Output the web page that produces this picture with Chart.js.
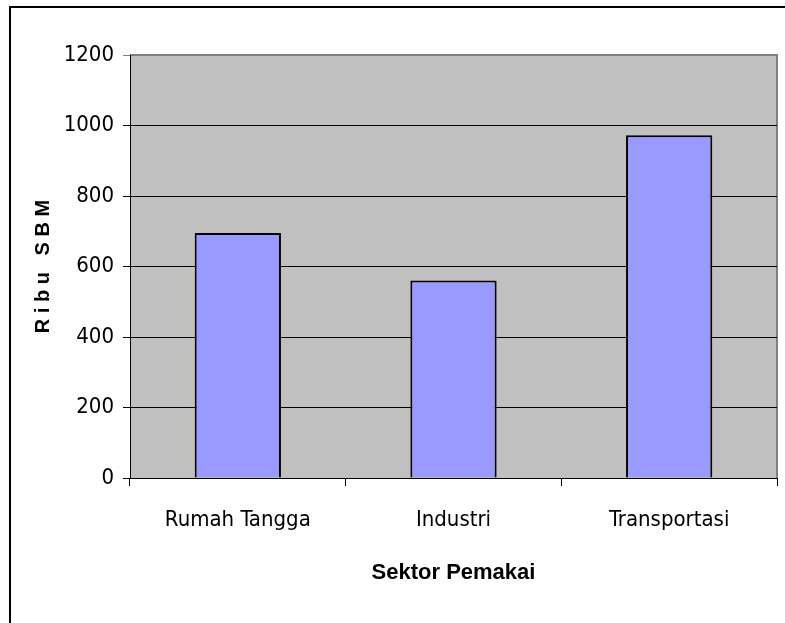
<!DOCTYPE html>
<html>
<head>
<meta charset="utf-8">
<script src="https://cdn.jsdelivr.net/npm/chart.js@4/dist/chart.umd.min.js"></script>
<style>
  html, body { margin: 0; padding: 0; background: #fff; }
  canvas { display: block; }
</style>
</head>
<body>
<canvas id="grafik" width="785" height="623"></canvas>
<script>
const sektor = ["Rumah Tangga", "Industri", "Transportasi"];
const ribuSBM = [695, 560, 972];
const yMin = 0;
const yMax = 1200;
const yStep = 200;

const fontNarrow = "'Liberation Sans Narrow', 'DejaVu Sans Condensed', Arial, sans-serif";
const fontBold = "Arial, 'Liberation Sans', sans-serif";

// fondo gris del area y marco exterior
const latar = {
  id: "latar",
  beforeDraw(chart) {
    const { ctx, chartArea: a } = chart;
    ctx.save();
    ctx.fillStyle = "#fff";
    ctx.fillRect(0, 0, chart.width, chart.height);
    ctx.fillStyle = "#000";
    ctx.fillRect(9, 6, 2, chart.height);
    ctx.fillRect(9, 6, chart.width, 2);
    ctx.fillStyle = "#c0c0c0";
    ctx.fillRect(a.left, a.top, a.right - a.left, a.bottom - a.top);
    ctx.strokeStyle = "#808080";
    ctx.lineWidth = 2;
    ctx.beginPath();
    ctx.moveTo(a.left, a.top);
    ctx.lineTo(a.right, a.top);
    ctx.lineTo(a.right, a.bottom);
    ctx.stroke();
    ctx.restore();
  }
};

new Chart(document.getElementById("grafik"), {
  type: "bar",
  data: {
    labels: sektor,
    datasets: [{
      label: "Ribu SBM",
      data: ribuSBM,
      backgroundColor: "#9999ff",
      borderColor: "#000",
      borderWidth: 2,
      categoryPercentage: 1,
      barPercentage: 0.4
    }]
  },
  options: {
    responsive: false,
    animation: false,
    devicePixelRatio: 1,
    layout: { padding: { top: 55, right: 8, left: 0, bottom: 0 } },
    plugins: {
      legend: { display: false },
      tooltip: { enabled: false }
    },
    scales: {
      x: {
        offset: true,
        grid: {
          offset: true,
          drawOnChartArea: false,
          color: "#000",
          tickLength: 8
        },
        border: { color: "#000", width: 1 },
        ticks: {
          color: "#000",
          padding: 21,
          maxRotation: 0,
          font: { family: fontNarrow, size: 22 }
        },
        title: {
          display: true,
          text: "Sektor Pemakai",
          color: "#000",
          padding: { top: 0, bottom: 37 },
          font: { family: fontBold, size: 22, weight: "bold" }
        },
        afterFit(scale) { scale.height = 145; }
      },
      y: {
        min: yMin,
        max: yMax,
        grid: {
          color: ctx => (ctx.tick && ctx.tick.value === yMax ? "#808080" : "#000"),
          tickLength: 7
        },
        border: { color: "#000", width: 1 },
        ticks: {
          stepSize: yStep,
          color: "#000",
          padding: 9,
          font: { family: fontNarrow, size: 22 },
          callback: v => String(v)
        },
        title: {
          display: true,
          text: "R i b u   S B M",
          color: "#000",
          padding: { top: 31, bottom: 0 },
          font: { family: fontBold, size: 20, weight: "bold" }
        },
        afterFit(scale) { scale.width = 130; }
      }
    }
  },
  plugins: [latar]
});
</script>
</body>
</html>
